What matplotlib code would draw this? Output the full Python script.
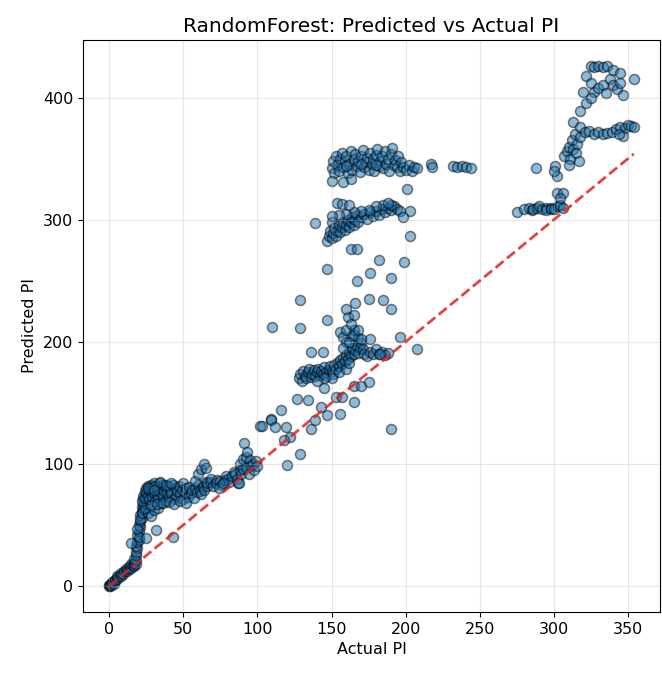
import matplotlib
matplotlib.use("Agg")
import matplotlib.pyplot as plt
import numpy as np

# (actual, predicted) pairs, grouped by region
pts_diag_low = [(0,0),(0,1),(0.5,0),(1,2),(1.5,1),(2,3),(3,4),(3,2),(4,5),(5,6),(5,8),(6,7),(7,9),(8,8),(8,11),
                (9,10),(10,12),(11,13),(12,12),(12,15),(13,14),(14,16),(15,15),(15,18),(16,17),(17,16),(17,19),(18,18),(18,21)]
pts_column = [(17,22),(18,25),(18,28),(19,31),(18,33),(19,36),(20,38),(19,42),(20,45),(21,48),(20,50),(21,53),(22,56),
              (21,58),(22,61),(23,63),(22,65),(23,67),(24,69),(23,71),(25,72),(24,74),(26,76),(20,40),(19,47),(21,55),
              (22,60),(26,60),(28,57),(30,62),(33,64),(24,64),(14.6,35),(24.7,39),(31.5,45.8),(42.7,40.4)]
pts_band_low = [(22,70),(23,74),(24,78),(24,72),(25,80),(25,76),(26,82),(26,74),(27,79),(27,71),(28,83),(28,77),(29,80),
                (29,73),(30,84),(30,76),(31,81),(31,70),(32,82),(32,75),(33,79),(33,72),(34,84),(34,77),(35,80),(35,68),
                (36,83),(36,74),(37,78),(38,81),(38,70),(39,77),(40,82),(40,73),(41,79),(42,76),(43,83),(44,71),(45,80),
                (45,74),(46,78),(47,82),(48,75),(49,79),(50,71),(50,84),(51,77),(52,80),(53,73),(54,81),(55,76),(56,79),
                (57,72),(58,80),(59,77),(60,83),(61,78),(62,75),(63,81),(64,79),(65,85),(66,82),(28,66),(32,67),(36,68),
                (40,69),(44,67),(48,70),(52,68),(30,82),(34,85),(38,83),(42,84),(26,80),(30,79)]
pts_rise = [(58,86),(60,92),(62,96),(64,100),(65,97),(66,84),(68,85),(69,88),(70,82),(72,84),(73,87),(75,86),(76,83),
            (78,87),(79,90),(80,88),(81,85),(83,90),(84,93),(85,92),(86,88),(87,84),(88,95),(88,100),(89,92),(90,104),
            (90,96),(91,117),(92,106),(92,97),(93,110),(94,92),(95,103),(96,98),(97,100),(98,95),(99,102),(100,98),
            (87.6,84),(74,80),(77,84)]
pts_scatter_mid = [(102,131),(103,131),(109,137),(109,136),(112,130),(119,130),(122,122),(120,99),(118,120),(129,108),
                   (116,144),(127,153),(134,152),(136,129),(139,136),(143,147),(147,140),(156,141),(145,162),(153,155),
                   (157,155),(165,151),(165,164),(170,164),(175,167),(190,129)]
pts_band_170 = [(128,170),(129,174),(130,168),(131,176),(132,172),(133,170),(134,175),(135,178),(136,171),(137,174),
                (138,177),(139,172),(140,175),(141,178),(142,173),(143,176),(144,174),(145,179),(146,175),(147,172),
                (148,177),(149,180),(150,176),(151,174),(152,181),(153,178),(154,183),(155,180),(156,185),(157,182),
                (158,187),(159,184),(160,189),(161,186),(162,192),(163,188),(164,195),(165,190),(166,193),(167,197),
                (168,191),(169,195),(170,199),(171,194),(172,190),(174,188),(176,192),(178,190),(180,194),(182,190),
                (184,192),(186,189),(188,191),(163,205),(165,210),(168,203),(160,200),(176,202),(196,204),(208,194),
                (183,190),(136,192),(144,192),(150,170),(155,175),(160,178),(145,170),(140,168),(158,195),(162,183)]
pts_scatter_high = [(110,212),(129,211),(147,218),(156,208),(158,204),(160,210),(162,200),(165,206),(168,210),(170,202),
                    (161,220),(166,232),(160,227),(175,235),(185,234),(190,227),(129,234),(167,250),(176,256),(190,252),
                    (182,267),(199,265),(147,260),(163,276),(167,276),(203,287),(139,297),(150,298),(165,222),(163,215)]
pts_band_300 = [(147,283),(148,287),(149,291),(150,285),(151,289),(152,293),(153,287),(154,291),(155,296),(156,290),
                (157,294),(158,298),(159,292),(160,296),(161,300),(162,294),(163,298),(164,302),(165,296),(166,300),
                (167,304),(168,298),(170,302),(172,305),(174,301),(176,306),(178,303),(180,307),(182,304),(184,309),
                (186,306),(188,310),(190,308),(192,311),(194,309),(185,312),(180,311),(175,308),(170,307),(165,306),
                (160,305),(155,304),(150,303),(154,314),(157,313),(162,312),(203,307),(196,307),(198,302),(190,312),
                (188,314)]
pts_band_345 = [(150,342),(151,348),(152,338),(153,352),(154,345),(155,340),(156,350),(157,355),(158,343),(159,348),
                (160,352),(161,338),(162,346),(163,356),(164,341),(165,350),(166,354),(167,344),(168,348),(169,339),
                (170,352),(171,357),(172,343),(173,347),(174,351),(175,341),(176,355),(177,346),(178,350),(179,340),
                (180,353),(181,358),(182,344),(183,348),(184,352),(185,342),(186,356),(187,346),(188,350),(189,340),
                (190,354),(191,359),(192,345),(193,349),(194,343),(195,352),(196,340),(197,347),(198,343),(200,341),
                (202,345),(204,340),(206,343),(208,342),(201,325),(150,332),(158,331),(163,333),(217,346),(218,343),
                (232,344),(235,343),(238,344),(241,343),(244,342),(180,345),(170,346),(160,344)]
pts_upper_right = [(275,306),(280,309),(283,310),(285,308),(286,309),(289,310),(290,311),(292,309),(295,310),(295,308),
                   (298,310),(298,309),(300,309),(303,311),(304,312),(306,310),(288,342),(301,344),(302,336),(300,340),
                   (302,322),(306,322),(304,318),(307,352),(309,356),(310,360),(311,350),(312,365),(313,358),(314,370),
                   (315,355),(316,362),(317,348),(318,368),(310,345),(313,380),(318,389),(322,396),(318,376),(321,372),
                   (324,373),(327,370),(330,372),(333,370),(336,371),(339,372),(342,374),(345,376),(348,375),(350,378),
                   (352,377),(354,376),(347,369),(344,370),(322,418),(325,412),(327,405),(330,408),(333,410),(335,404),
                   (338,415),(340,410),(343,407),(345,412),(325,426),(327,425),(330,426),(333,425),(336,426),(340,423),
                   (345,420),(354,415),(347,402),(325,400),(320,405)]

groups = [pts_diag_low, pts_column, pts_band_low, pts_rise, pts_scatter_mid, pts_band_170,
          pts_scatter_high, pts_band_300, pts_band_345, pts_upper_right]
allpts = np.array([p for g in groups for p in g], dtype=float)
actual = allpts[:, 0]
predicted = allpts[:, 1]

fig = plt.figure(figsize=(6.62, 6.77), dpi=100)
ax = fig.add_axes([0.1254, 0.096, 0.8716, 0.845])
ax.scatter(actual, predicted, s=52, alpha=0.5, color='tab:blue', edgecolors='k', linewidths=1.1)
lo, hi = actual.min(), actual.max()
ax.plot([lo, hi], [lo, hi], '--', color='#dd2222', alpha=0.85, lw=2)
ax.set_title("RandomForest: Predicted vs Actual PI", fontsize=14.5)
ax.set_xlabel("Actual PI", fontsize=11.5)
ax.set_ylabel("Predicted PI", fontsize=11.5)
ax.tick_params(labelsize=11.5)
ax.grid(True, alpha=0.3)
fig.savefig("out.png", dpi=100)
